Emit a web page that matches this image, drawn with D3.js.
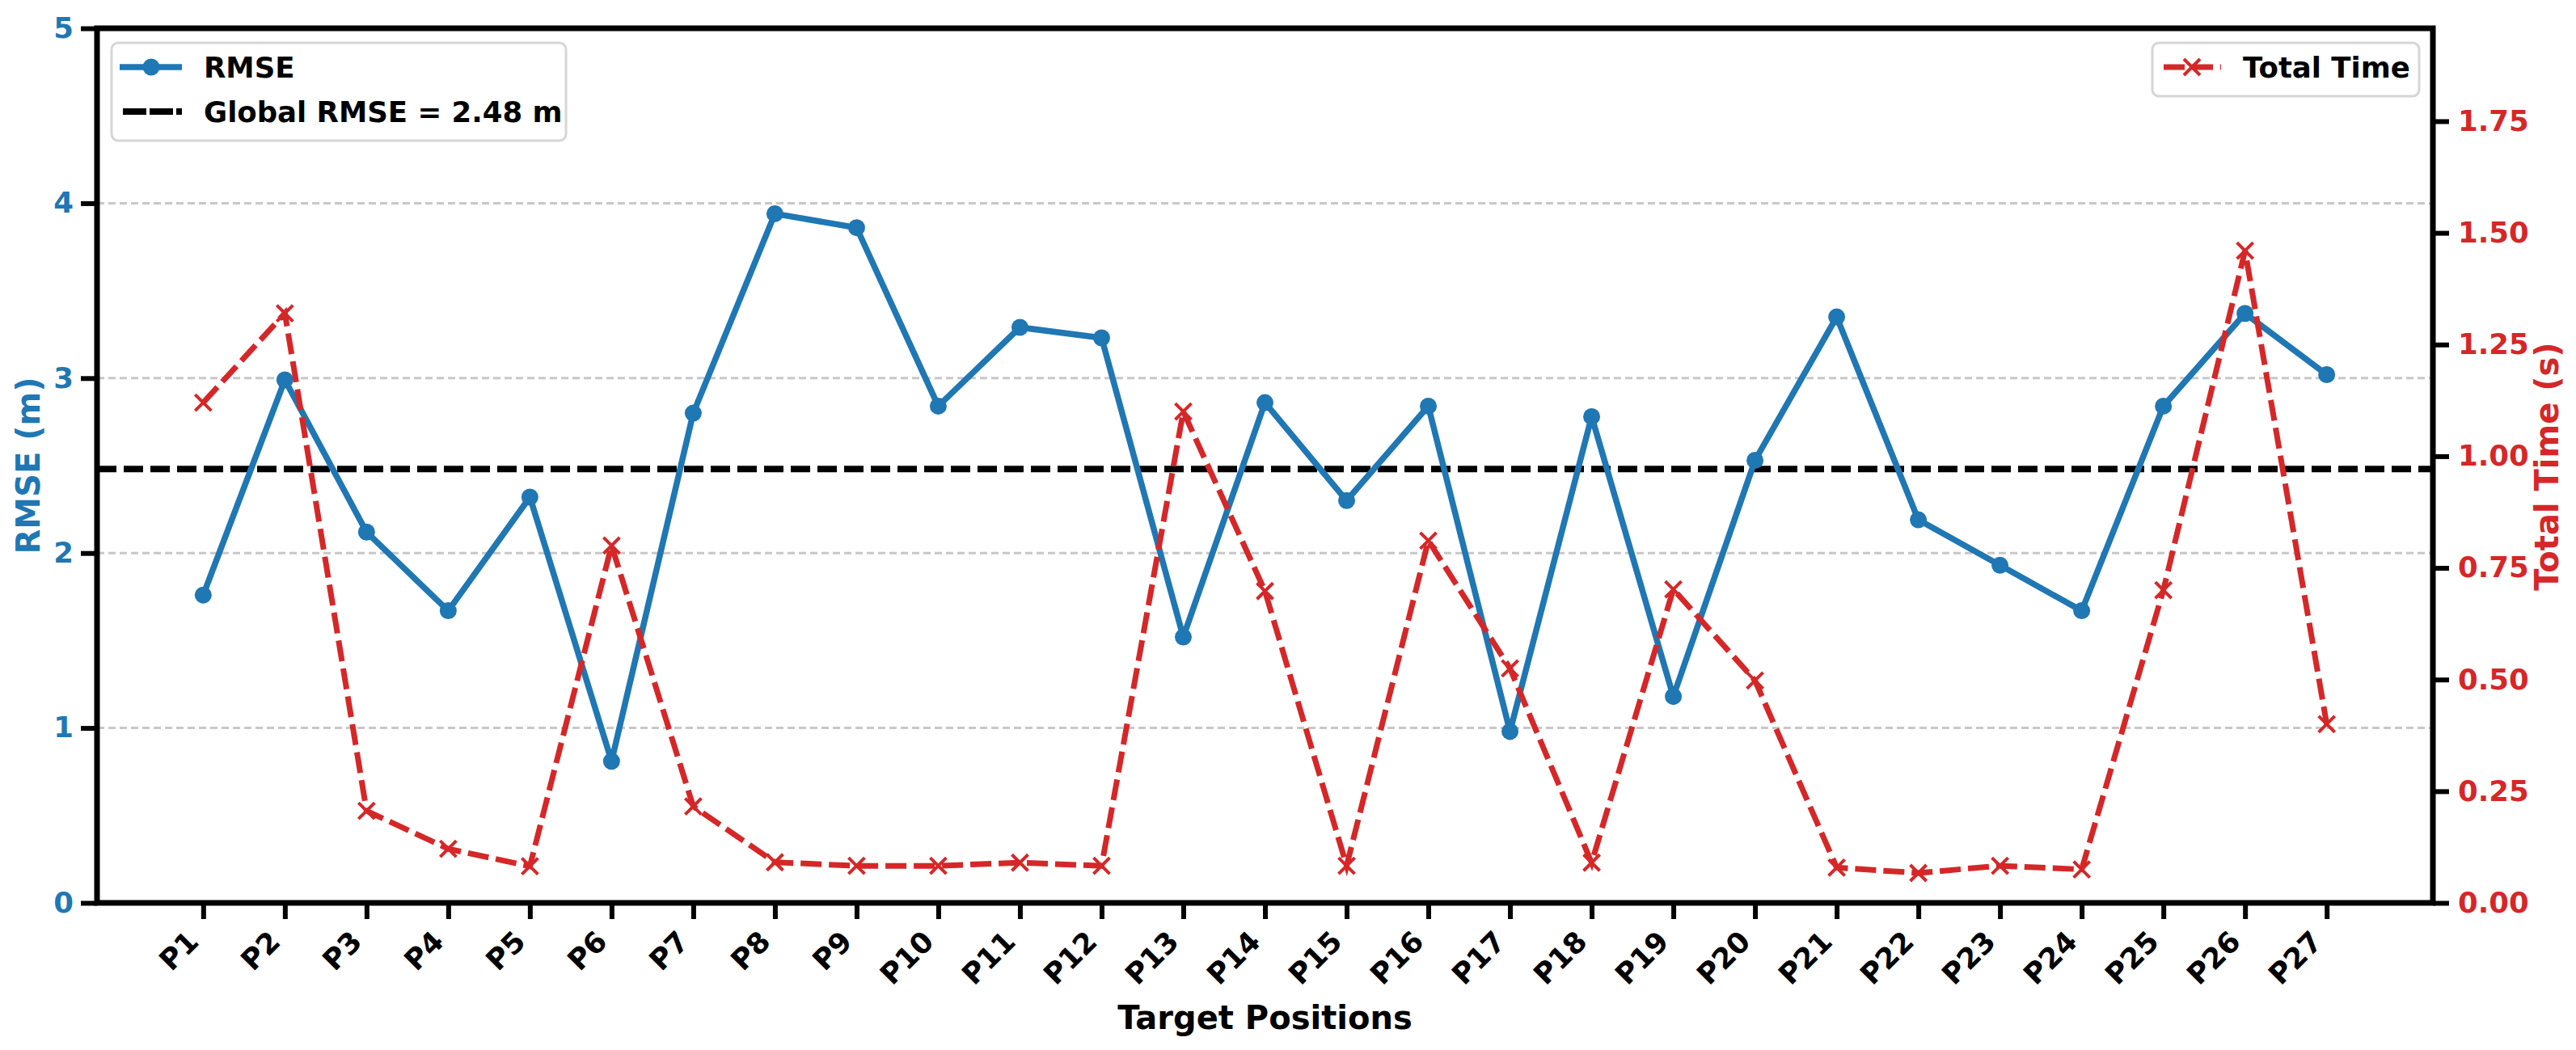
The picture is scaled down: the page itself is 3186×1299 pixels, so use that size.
<!DOCTYPE html>
<html>
<head>
<meta charset="utf-8">
<script src="https://cdn.jsdelivr.net/npm/d3@7"></script>
<style>
  html, body { margin: 0; padding: 0; background: #fff; }
  svg { display: block; }
  text { font-family: "DejaVu Sans", sans-serif; font-weight: bold; }
</style>
</head>
<body>
<script>
const categories = ["P1","P2","P3","P4","P5","P6","P7","P8","P9","P10","P11","P12","P13","P14","P15","P16","P17","P18","P19","P20","P21","P22","P23","P24","P25","P26","P27"];
const rmseValues = [1.76,2.99,2.12,1.67,2.32,0.81,2.80,3.94,3.86,2.84,3.29,3.23,1.52,2.86,2.30,2.84,0.98,2.78,1.18,2.53,3.35,2.19,1.93,1.67,2.84,3.37,3.02];
const timeValues = [1.12,1.32,0.206,0.121,0.082,0.80,0.216,0.091,0.083,0.083,0.090,0.083,1.10,0.698,0.083,0.811,0.525,0.090,0.702,0.498,0.079,0.067,0.083,0.075,0.70,1.46,0.40];
const globalRmse = 2.48;
const leftTicks = [0,1,2,3,4,5];
const rightTicks = [0,0.25,0.5,0.75,1.0,1.25,1.5,1.75];
const leftDomain = [0,5];
const rightDomain = [0,1.958];

const W = 3186, H = 1299;
const L = 120, R = 3009, T = 35, B = 1117;
const BLUE = "#1f77b4", RED = "#d62728";
const FS = 35.5, LFS = 40;

const svg = d3.select("body").append("svg").attr("width", W).attr("height", H);

const x = d3.scalePoint().domain(categories).range([L, R]).padding(1.3);
const yL = d3.scaleLinear().domain(leftDomain).range([B, T]);
const yR = d3.scaleLinear().domain(rightDomain).range([B, T]);

// grid
svg.append("g").selectAll("line").data(leftTicks.filter(t => t > 0 && t < 5)).join("line")
  .attr("x1", L).attr("x2", R).attr("y1", d => yL(d)).attr("y2", d => yL(d))
  .attr("stroke", "#c8c8c8").attr("stroke-width", 3).attr("stroke-dasharray", "9,5");

// global RMSE line
svg.append("line").attr("x1", L).attr("x2", R).attr("y1", yL(globalRmse)).attr("y2", yL(globalRmse))
  .attr("stroke", "#000").attr("stroke-width", 8).attr("stroke-dasharray", "24,9");

// RMSE line
const lineL = d3.line().x((d, i) => x(categories[i])).y(d => yL(d));
svg.append("path").datum(rmseValues).attr("d", lineL)
  .attr("fill", "none").attr("stroke", BLUE).attr("stroke-width", 7.5).attr("stroke-linejoin", "round");
svg.append("g").selectAll("circle").data(rmseValues).join("circle")
  .attr("cx", (d, i) => x(categories[i])).attr("cy", d => yL(d)).attr("r", 10.5).attr("fill", BLUE);

// Time line
const lineR = d3.line().x((d, i) => x(categories[i])).y(d => yR(d));
svg.append("path").datum(timeValues).attr("d", lineR)
  .attr("fill", "none").attr("stroke", RED).attr("stroke-width", 7).attr("stroke-dasharray", "26,9");
const xm = 10;
function xMarker(cx, cy) { return `M${cx-xm},${cy-xm}L${cx+xm},${cy+xm}M${cx-xm},${cy+xm}L${cx+xm},${cy-xm}`; }
svg.append("g").selectAll("path").data(timeValues).join("path")
  .attr("d", (d, i) => xMarker(x(categories[i]), yR(d)))
  .attr("stroke", RED).attr("stroke-width", 4).attr("fill", "none");

// axes
const tickStyle = g => {
  g.select(".domain").remove();
  g.selectAll(".tick line").attr("stroke", "#000").attr("stroke-width", 6);
};
const gL = svg.append("g").attr("transform", `translate(${L},0)`)
  .call(d3.axisLeft(yL).tickValues(leftTicks).tickSize(20).tickPadding(9).tickFormat(d3.format("d")));
tickStyle(gL);
gL.selectAll(".tick text").attr("fill", BLUE).attr("font-size", FS).attr("font-family", "DejaVu Sans").attr("font-weight", "bold");

const gR = svg.append("g").attr("transform", `translate(${R},0)`)
  .call(d3.axisRight(yR).tickValues(rightTicks).tickSize(20).tickPadding(11).tickFormat(d3.format(".2f")));
tickStyle(gR);
gR.selectAll(".tick text").attr("fill", RED).attr("font-size", FS).attr("font-family", "DejaVu Sans").attr("font-weight", "bold");

const gB = svg.append("g").attr("transform", `translate(0,${B})`)
  .call(d3.axisBottom(x).tickSize(20));
tickStyle(gB);
gB.selectAll(".tick text")
  .attr("fill", "#000").attr("font-size", FS).attr("font-family", "DejaVu Sans").attr("font-weight", "bold")
  .attr("text-anchor", "end").attr("y", 0).attr("dy", 0)
  .attr("transform", "translate(-4,50) rotate(-45)");

// spines
svg.append("rect").attr("x", L).attr("y", T).attr("width", R - L).attr("height", B - T)
  .attr("fill", "none").attr("stroke", "#000").attr("stroke-width", 7);

// axis labels
svg.append("text").attr("transform", `translate(49,576) rotate(-90)`).attr("text-anchor", "middle")
  .attr("fill", BLUE).attr("font-size", LFS).text("RMSE (m)");
svg.append("text").attr("transform", `translate(3164,577) rotate(-90)`).attr("text-anchor", "middle")
  .attr("fill", RED).attr("font-size", LFS).text("Total Time (s)");
svg.append("text").attr("x", (L + R) / 2).attr("y", 1273).attr("text-anchor", "middle")
  .attr("fill", "#000").attr("font-size", LFS).text("Target Positions");

// left legend
const lg = svg.append("g");
lg.append("rect").attr("x", 138).attr("y", 53).attr("width", 562).attr("height", 121).attr("rx", 8)
  .attr("fill", "#fff").attr("fill-opacity", 0.8).attr("stroke", "#d6d6d6").attr("stroke-width", 3);
lg.append("line").attr("x1", 148).attr("x2", 225).attr("y1", 83).attr("y2", 83)
  .attr("stroke", BLUE).attr("stroke-width", 7.5);
lg.append("circle").attr("cx", 187).attr("cy", 83).attr("r", 10.5).attr("fill", BLUE);
lg.append("text").attr("x", 252).attr("y", 96).attr("font-size", FS).attr("fill", "#000").text("RMSE");
lg.append("line").attr("x1", 152).attr("x2", 225).attr("y1", 138).attr("y2", 138)
  .attr("stroke", "#000").attr("stroke-width", 8).attr("stroke-dasharray", "29,4");
lg.append("text").attr("x", 252).attr("y", 151).attr("font-size", FS).attr("fill", "#000").text("Global RMSE = " + globalRmse.toFixed(2) + " m");

// right legend
const rg = svg.append("g");
rg.append("rect").attr("x", 2662).attr("y", 53).attr("width", 330).attr("height", 66).attr("rx", 8)
  .attr("fill", "#fff").attr("fill-opacity", 0.8).attr("stroke", "#d6d6d6").attr("stroke-width", 3);
rg.append("line").attr("x1", 2676).attr("x2", 2747).attr("y1", 83).attr("y2", 83)
  .attr("stroke", RED).attr("stroke-width", 7).attr("stroke-dasharray", "26,9");
rg.append("path").attr("d", xMarker(2711, 83)).attr("stroke", RED).attr("stroke-width", 4).attr("fill", "none");
rg.append("text").attr("x", 2774).attr("y", 96).attr("font-size", FS).attr("fill", "#000").text("Total Time");
</script>
</body>
</html>
